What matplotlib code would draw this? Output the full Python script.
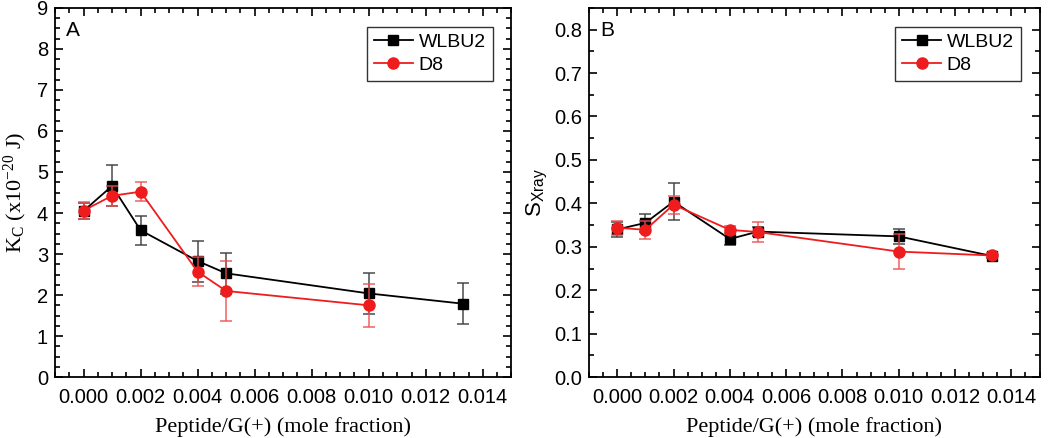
import matplotlib
matplotlib.use("Agg")
import matplotlib.pyplot as plt
from matplotlib.ticker import MultipleLocator

plt.rcParams['font.family'] = ['Liberation Sans', 'DejaVu Sans']
plt.rcParams['mathtext.fontset'] = 'custom'
plt.rcParams['mathtext.rm'] = 'Liberation Serif'
plt.rcParams['mathtext.sf'] = 'Liberation Sans'
plt.rcParams['mathtext.it'] = 'Liberation Serif:italic'

# peptide / G(+) mole fraction
x_wlbu2 = [0.0, 0.001, 0.002, 0.004, 0.005, 0.010, 0.0133]
x_d8 = [0.0, 0.001, 0.002, 0.004, 0.005, 0.010]
x_d8_b = [0.0, 0.001, 0.002, 0.004, 0.005, 0.010, 0.0133]

# panel A: bending modulus Kc (x10^-20 J)
kc_wlbu2 = [4.05, 4.66, 3.58, 2.83, 2.53, 2.04, 1.79]
kc_wlbu2_err = [0.2, 0.5, 0.35, 0.5, 0.5, 0.5, 0.5]
kc_d8 = [4.06, 4.42, 4.52, 2.57, 2.10, 1.75]
kc_d8_err = [0.21, 0.25, 0.23, 0.36, 0.72, 0.53]

# panel B: S_xray order parameter
s_wlbu2 = [0.340, 0.355, 0.404, 0.318, 0.335, 0.324, 0.279]
s_wlbu2_err = [0.018, 0.021, 0.043, 0.013, 0.010, 0.017, 0.005]
s_d8 = [0.344, 0.339, 0.397, 0.339, 0.334, 0.289, 0.280]
s_d8_err = [0.016, 0.020, 0.021, 0.010, 0.023, 0.041, 0.005]

fig = plt.figure(figsize=(10.5, 4.38), dpi=100)
ax1 = fig.add_axes([0.0524, 0.139, 0.4346, 0.843])
ax2 = fig.add_axes([0.561, 0.139, 0.429, 0.843])


def draw(ax, xw, yw, ew, xd, yd, ed):
    w = ax.errorbar(xw, yw, yerr=ew, color='black', marker='s', markersize=7,
                    lw=1.3, ecolor=(0.25, 0.25, 0.25, 0.8), elinewidth=1.3,
                    capsize=4, capthick=1.3, label='WLBU2', zorder=3)
    d = ax.errorbar(xd, yd, yerr=ed, color='#ee1c1c', marker='o', markersize=8,
                    lw=1.3, ecolor=(0.93, 0.3, 0.3, 0.75), elinewidth=1.3,
                    capsize=4, capthick=1.3, label='D8', zorder=4)
    ax.set_xlim(-0.001, 0.015)
    ax.set_xticks([0.0, 0.002, 0.004, 0.006, 0.008, 0.010, 0.012, 0.014])
    ax.set_xticklabels(['0.000', '0.002', '0.004', '0.006', '0.008',
                        '0.010', '0.012', '0.014'])
    ax.xaxis.set_minor_locator(MultipleLocator(0.0005))
    ax.tick_params(which='both', direction='in', top=True, right=True,
                   labelsize=14.5, width=1.2)
    ax.tick_params(which='major', length=6)
    ax.tick_params(axis='x', which='major', pad=8)
    ax.tick_params(axis='y', which='major', pad=5)
    ax.tick_params(which='minor', length=3.5)
    for sp in ax.spines.values():
        sp.set_linewidth(1.3)
    ax.set_xlabel('Peptide/G(+) (mole fraction)', family='Liberation Serif',
                  fontsize=16, labelpad=7)
    leg = ax.legend(handles=[w.lines[0], d.lines[0]], labels=['WLBU2', 'D8'],
                    loc='upper right', fontsize=14, fancybox=False,
                    edgecolor='black', handlelength=2.0, borderpad=0.35,
                    labelspacing=0.25, handletextpad=0.3,
                    bbox_to_anchor=(0.98, 0.975))
    leg.get_frame().set_linewidth(1.0)


draw(ax1, x_wlbu2, kc_wlbu2, kc_wlbu2_err, x_d8, kc_d8, kc_d8_err)
ax1.set_ylim(0, 9)
ax1.yaxis.set_major_locator(MultipleLocator(1))
ax1.yaxis.set_minor_locator(MultipleLocator(0.25))
ax1.set_ylabel(r'K$_\mathrm{C}$ (x10$^{-20}$ J)', family='Liberation Serif',
               fontsize=16)
ax1.yaxis.set_label_coords(-0.058, 0.5)
ax1.text(0.025, 0.965, 'A', transform=ax1.transAxes, fontsize=15,
         va='top', ha='left')

draw(ax2, x_wlbu2, s_wlbu2, s_wlbu2_err, x_d8_b, s_d8, s_d8_err)
ax2.set_ylim(0, 0.85)
ax2.yaxis.set_major_locator(MultipleLocator(0.1))
ax2.yaxis.set_minor_locator(MultipleLocator(0.05))
ax2.set_ylabel(r'$\mathsf{S}_{\mathsf{Xray}}$', fontsize=16, labelpad=4)
ax2.text(0.025, 0.965, 'B', transform=ax2.transAxes, fontsize=15,
         va='top', ha='left')

fig.savefig('out.png', dpi=100)
